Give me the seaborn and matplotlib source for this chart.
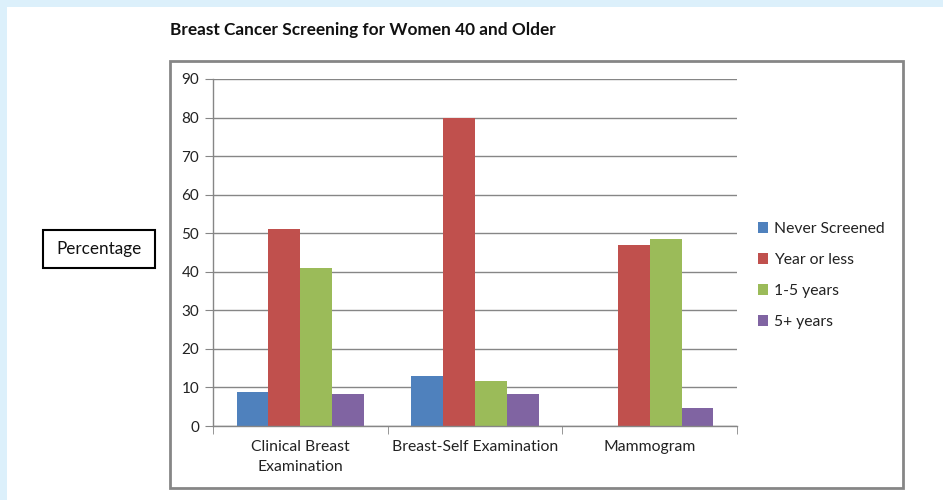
import matplotlib
matplotlib.use("Agg")
import matplotlib.pyplot as plt
from matplotlib.patches import Rectangle
import pandas as pd
import seaborn as sns

# data
categories = ["Clinical Breast\nExamination", "Breast-Self Examination", "Mammogram"]
intervals = ["Never Screened", "Year or less", "1-5 years", "5+ years"]
never_screened = [8.9, 13.0, 0.0]
year_or_less = [51.0, 80.0, 47.0]
one_to_five = [41.0, 11.7, 48.5]
five_plus = [8.2, 8.2, 4.6]

colors = ["#4f81bd", "#c0504d", "#9bbb59", "#8064a2"]
grey = "#868686"

rows = []
for name, vals in zip(intervals, [never_screened, year_or_less, one_to_five, five_plus]):
    for cat, v in zip(categories, vals):
        rows.append({"Test": cat, "Interval": name, "Percentage": v})
df = pd.DataFrame(rows)

sns.set_style("white")
plt.rcParams["font.family"] = ["Lato", "DejaVu Sans"]

W, H = 943, 500
fig = plt.figure(figsize=(W / 100, H / 100), dpi=100, facecolor="#dcf0fb")


def fx(x):
    return x / W


def fy(y):
    return 1 - y / H


# white panel and chart frame
fig.patches.append(Rectangle((fx(7), 0), 1 - fx(7), fy(7), transform=fig.transFigure,
                             facecolor="white", edgecolor="none", zorder=-2))
fig.patches.append(Rectangle((fx(170), fy(488)), fx(903) - fx(170), fy(61) - fy(488),
                             transform=fig.transFigure, facecolor="none",
                             edgecolor=grey, lw=2, zorder=1))

ax = fig.add_axes([fx(213), fy(426), fx(737) - fx(213), fy(79) - fy(426)])
sns.barplot(data=df, x="Test", y="Percentage", hue="Interval", palette=colors,
            width=0.73, saturation=1, linewidth=0, ax=ax)

ax.set_ylim(0, 90)
ax.set_yticks(range(0, 91, 10))
ax.set_xlim(-0.5, 2.5)
ax.yaxis.grid(True, color=grey, lw=1)
ax.set_axisbelow(True)
ax.set_xlabel("")
ax.set_ylabel("")
for s in ["top", "right"]:
    ax.spines[s].set_visible(False)
for s in ["left", "bottom"]:
    ax.spines[s].set_color(grey)
    ax.spines[s].set_linewidth(1)

ax.tick_params(axis="y", left=True, length=6, color=grey, labelsize=11,
               labelcolor="#222222", pad=4)
ax.tick_params(axis="x", bottom=True, length=0, labelsize=11.3,
               labelcolor="#222222", pad=10)
for lab in ax.get_xticklabels():
    lab.set_linespacing(1.6)
ax.set_xticks([-0.5, 0.5, 1.5, 2.5], minor=True)
ax.tick_params(axis="x", which="minor", bottom=True, length=6, color=grey)

ax.legend(loc="upper left", bbox_to_anchor=(fx(758), fy(222)),
          bbox_transform=fig.transFigure, frameon=False, fontsize=11.3,
          handlelength=0.65, handleheight=0.65, handletextpad=0.4,
          labelspacing=1.08, borderpad=0, borderaxespad=0,
          labelcolor="#222222")

fig.text(fx(170), fy(30), "Breast Cancer Screening for Women 40 and Older",
         fontweight="bold", fontsize=12.4, ha="left", va="center", color="#111111")

fig.patches.append(Rectangle((fx(43), fy(268)), fx(155) - fx(43), fy(230) - fy(268),
                             transform=fig.transFigure, facecolor="white",
                             edgecolor="black", lw=1.5, zorder=1))
fig.text(fx(99), fy(249), "Percentage", fontsize=12.3, ha="center", va="center",
         color="#111111")

fig.savefig("out.png", dpi=100)
